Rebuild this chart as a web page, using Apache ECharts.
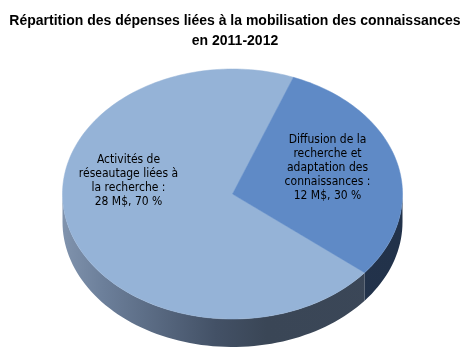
<!DOCTYPE html>
<html><head><meta charset="utf-8">
<script src="https://cdn.jsdelivr.net/npm/echarts@6/dist/echarts.min.js"></script>
<style>html,body{margin:0;padding:0;background:#fff}#c{width:470px;height:354px}</style>
</head><body><div id="c"></div>
<script>
// Data
const categories = ["Activités de\nréseautage liées à\nla recherche :\n28 M$, 70 %", "Diffusion de la\nrecherche et\nadaptation des\nconnaissances :\n12 M$, 30 %"];
const values = [28, 12];
const titleText = "Répartition des dépenses liées à la mobilisation des connaissances\nen 2011-2012";

// Layout / style
const CX = 232.5, CY = 194, RX = 170, RY = 125, DEPTH = 28, START = 129;
const topColors = ["#95B3D7", "#5F8AC6"];
const labelOffsets = [[-104, -13], [95, -26]];
const total = values.reduce((a, b) => a + b, 0);

function pt(deg, dy) {
  const r = deg * Math.PI / 180;
  return [CX + RX * Math.sin(r), CY - RY * Math.cos(r) + (dy || 0)];
}
function range(i) {
  let s = START;
  for (let k = 0; k < i; k++) s += values[k] / total * 360;
  return [s, s + values[i] / total * 360];
}

function renderItem(params, api) {
  const i = params.dataIndex;
  const [a0, a1] = range(i);
  const children = [];
  const segs = [];
  for (let off = -360; off <= 360; off += 360) {
    const s = Math.max(a0, 90 + off), e = Math.min(a1, 270 + off);
    if (e > s) segs.push([s, e]);
  }
  segs.forEach(([s, e]) => {
    const top = [], bot = [];
    const n = Math.max(4, Math.ceil((e - s) / 2));
    for (let k = 0; k <= n; k++) {
      const d = s + (e - s) * k / n;
      top.push(pt(d));
      bot.push(pt(d, DEPTH));
    }
    const poly = top.concat(bot.reverse());
    const fill = i === 0 ? {
      type: 'linear', x: CX - RX, y: 0, x2: CX + RX, y2: 0, global: true,
      colorStops: [{offset: 0, color: '#8093AD'}, {offset: 0.12, color: '#6C7F9A'}, {offset: 0.45, color: '#435166'}, {offset: 0.6, color: '#3A4656'}, {offset: 1, color: '#3B4758'}]
    } : {
      type: 'linear', x: CX - RX, y: 0, x2: CX + RX, y2: 0, global: true,
      colorStops: [{offset: 0, color: '#243650'}, {offset: 1, color: '#22324A'}]
    };
    children.push({type: 'polygon', z2: 1, shape: {points: poly}, style: {fill: fill, stroke: null}});
  });
  const pts = [[CX, CY]];
  const n = Math.ceil((a1 - a0) / 1.5);
  for (let k = 0; k <= n; k++) pts.push(pt(a0 + (a1 - a0) * k / n));
  children.push({type: 'polygon', z2: 10, shape: {points: pts}, style: {fill: topColors[i], stroke: topColors[i], lineWidth: 0.5}});
  children.push({
    type: 'text', z2: 20,
    x: CX + labelOffsets[i][0], y: CY + labelOffsets[i][1],
    style: {text: categories[i], fill: '#000', font: '12px "DejaVu Sans Condensed", "Liberation Sans", sans-serif', align: 'center', verticalAlign: 'middle', lineHeight: 14}
  });
  return {type: 'group', children: children};
}

const chart = echarts.init(document.getElementById('c'), null, {renderer: 'canvas'});
chart.setOption({
  animation: false,
  title: {text: titleText, left: 'center', top: 6, textStyle: {fontFamily: 'Liberation Sans', fontWeight: 'bold', fontSize: 14, color: '#000', lineHeight: 20}},
  series: [{type: 'custom', coordinateSystem: 'none', renderItem: renderItem, data: values.map(v => [v])}]
});
</script></body></html>
